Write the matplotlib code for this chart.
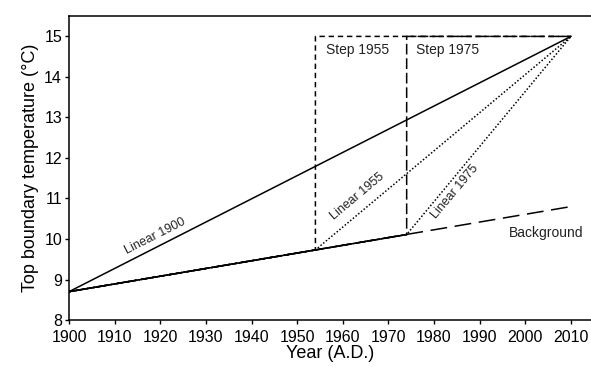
import matplotlib
matplotlib.use("Agg")
import matplotlib.pyplot as plt

plt.rcParams['font.family'] = ['Liberation Sans', 'DejaVu Sans']

# Top boundary temperature scenarios (year, °C)
bg_years = [1900, 2010]
bg_temp = [8.7, 10.8]

lin1900_years = [1900, 2010]
lin1900_temp = [8.7, 15.0]

lin1955_years = [1900, 1954, 2010]
lin1955_temp = [8.7, 9.73, 15.0]

lin1975_years = [1900, 1974, 2010]
lin1975_temp = [8.7, 10.11, 15.0]

step1955_years = [1900, 1954, 1954, 2010]
step1955_temp = [8.7, 9.73, 15.0, 15.0]

step1975_years = [1900, 1974, 1974, 2010]
step1975_temp = [8.7, 10.11, 15.0, 15.0]

x_ticks = list(range(1900, 2011, 10))
y_ticks = list(range(8, 16))

fig = plt.figure(figsize=(5.91, 3.67), dpi=100)
ax = fig.add_axes([0.1168, 0.128, 0.8832, 0.828])

lw = 1.1
ax.plot(bg_years, bg_temp, color='black', lw=lw, linestyle=(0, (11, 5)))
ax.plot(lin1900_years, lin1900_temp, color='black', lw=lw, linestyle='-')
ax.plot(lin1955_years, lin1955_temp, color='black', lw=lw, linestyle=(0, (1, 1.3)))
ax.plot(lin1975_years, lin1975_temp, color='black', lw=lw, linestyle=(0, (1, 1.3)))
ax.plot(step1955_years, step1955_temp, color='black', lw=lw, linestyle=(0, (3.5, 2.5)))
ax.plot(step1975_years, step1975_temp, color='black', lw=lw, linestyle=(0, (7, 2.5)))
# shared background segment before the scenarios diverge
ax.plot([1900, 1974], [8.7, 10.11], color='black', lw=lw, linestyle='-')

fs_lab = 9
ax.text(1918.8, 10.07, 'Linear 1900', rotation=27, ha='center', va='center', fontsize=fs_lab, color='#222222')
ax.text(1963.3, 11.04, 'Linear 1955', rotation=40, ha='center', va='center', fontsize=fs_lab, color='#222222')
ax.text(1984.6, 11.16, 'Linear 1975', rotation=50, ha='center', va='center', fontsize=fs_lab, color='#222222')
ax.text(1956.3, 14.67, 'Step 1955', ha='left', va='center', fontsize=10, color='#222222')
ax.text(1976.0, 14.67, 'Step 1975', ha='left', va='center', fontsize=10, color='#222222')
ax.text(1996.4, 10.15, 'Background', ha='left', va='center', fontsize=10, color='#222222')

ax.set_xlim(1900, 2014.4)
ax.set_ylim(8, 15.5)
ax.set_xticks(x_ticks)
ax.set_yticks(y_ticks)
ax.tick_params(axis='both', labelsize=11.5, length=3, width=1, direction='out')
ax.tick_params(axis='x', pad=4)
ax.tick_params(axis='y', pad=2)
ax.spines['right'].set_visible(False)
for s in ['left', 'bottom', 'top']:
    ax.spines[s].set_linewidth(1.1)

ax.set_xlabel('Year (A.D.)', fontsize=13, labelpad=0)
ax.set_ylabel('Top boundary temperature (°C)', fontsize=13, labelpad=4)

fig.savefig('out.png', dpi=100)
